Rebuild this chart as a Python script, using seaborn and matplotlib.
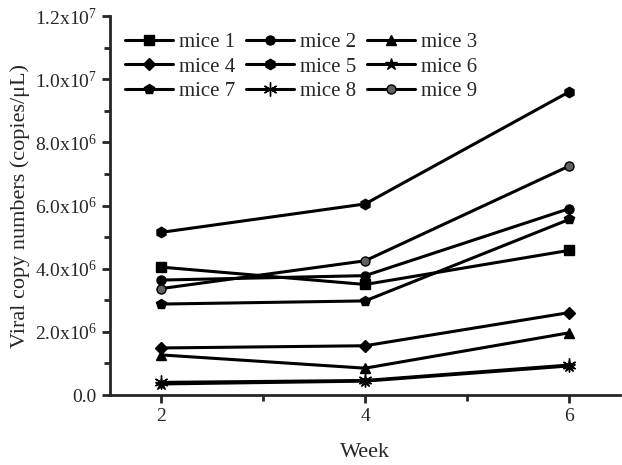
import pandas as pd
import matplotlib
matplotlib.use("Agg")
import matplotlib.pyplot as plt
import seaborn as sns
from matplotlib.ticker import FuncFormatter, MultipleLocator

# data (copies/uL)
weeks = [2, 4, 6]
mice_1 = [4.05e6, 3.50e6, 4.58e6]
mice_2 = [3.64e6, 3.78e6, 5.90e6]
mice_3 = [1.27e6, 0.85e6, 1.97e6]
mice_4 = [1.49e6, 1.56e6, 2.61e6]
mice_5 = [5.15e6, 6.05e6, 9.60e6]
mice_6 = [0.35e6, 0.44e6, 0.92e6]
mice_7 = [2.88e6, 2.98e6, 5.56e6]
mice_8 = [0.40e6, 0.46e6, 0.95e6]
mice_9 = [3.37e6, 4.25e6, 7.25e6]

series = {
    "mice 1": mice_1, "mice 2": mice_2, "mice 3": mice_3,
    "mice 4": mice_4, "mice 5": mice_5, "mice 6": mice_6,
    "mice 7": mice_7, "mice 8": mice_8, "mice 9": mice_9,
}
markers = {
    "mice 1": "s", "mice 2": "o", "mice 3": "^",
    "mice 4": "D", "mice 5": "h", "mice 6": "*",
    "mice 7": "p", "mice 8": (6, 2, 0), "mice 9": "o",
}
sizes = {"mice 4": 6, "mice 5": 7.5, "mice 6": 9, "mice 7": 7.5,
         "mice 8": 10, "mice 3": 7.5}

rows = []
for name, vals in series.items():
    for w, v in zip(weeks, vals):
        rows.append({"Week": w, "value": v, "mouse": name})
df = pd.DataFrame(rows)

sns.set_style("ticks")
plt.rcParams["font.family"] = ["Liberation Serif", "DejaVu Serif"]
plt.rcParams["mathtext.fontset"] = "custom"
plt.rcParams["mathtext.rm"] = "Liberation Serif"
plt.rcParams["mathtext.it"] = "Liberation Serif:italic"

fig = plt.figure(figsize=(6.22, 4.65), dpi=100)
ax = fig.add_axes([0.177, 0.1505, 0.82, 0.815])

for name in series:
    sub = df[df["mouse"] == name]
    face = "#606060" if name == "mice 9" else "black"
    sns.lineplot(
        data=sub, x="Week", y="value", color="black", label=name,
        marker=markers[name], markersize=sizes.get(name, 6.5),
        linewidth=2.2, markeredgecolor="black", markerfacecolor=face,
        markeredgewidth=1, ax=ax,
    )

ax.set_xlim(1.5, 6.5)
ax.set_ylim(0, 1.2e7)
ax.xaxis.set_major_locator(MultipleLocator(2))
ax.xaxis.set_minor_locator(MultipleLocator(1))
ax.yaxis.set_major_locator(MultipleLocator(2e6))
ax.yaxis.set_minor_locator(MultipleLocator(1e6))


def fmt(v, pos):
    if v == 0:
        return "0.0"
    e = 6 if v < 1e7 else 7
    return f"{v / 10**e:.1f}x10$^{{{e}}}$"


ax.yaxis.set_major_formatter(FuncFormatter(fmt))
ax.tick_params(axis="both", which="major", direction="out", length=6,
               width=2, labelsize=14)
ax.tick_params(axis="both", which="minor", direction="out", length=4, width=2)
for s in ["left", "bottom"]:
    ax.spines[s].set_linewidth(2)
sns.despine(ax=ax)

ax.set_xlabel("Week", fontsize=16, labelpad=13)
ax.set_ylabel("Viral copy numbers (copies/\u03bcL)", fontsize=16, labelpad=3)

# legend filled row by row
handles, labels = ax.get_legend_handles_labels()
idx = [0, 3, 6, 1, 4, 7, 2, 5, 8]
ax.legend([handles[i] for i in idx], [labels[i] for i in idx],
          ncol=3, loc="upper left", frameon=False,
          fontsize=15, bbox_to_anchor=(0.005, 0.99), handlelength=2.3,
          handletextpad=0.3, columnspacing=0.5, labelspacing=0.25,
          borderaxespad=0.2)

fig.savefig("out.png", dpi=100)
